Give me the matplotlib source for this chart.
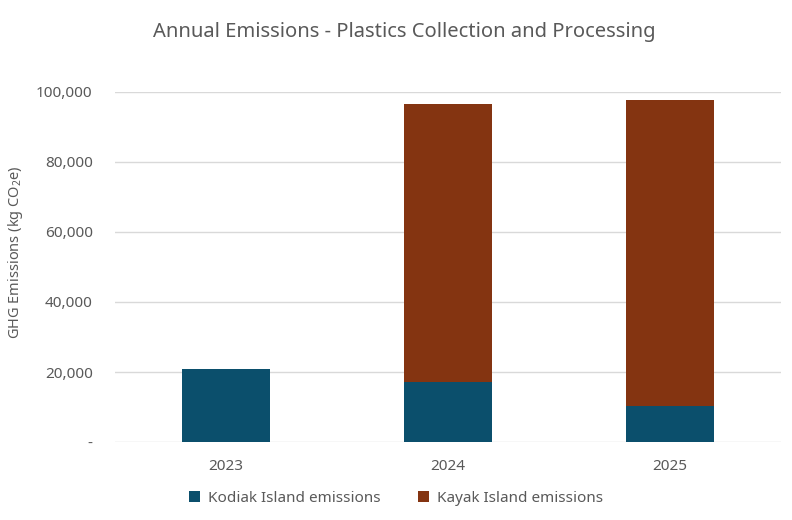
import matplotlib
matplotlib.use("Agg")
import matplotlib.pyplot as plt
from matplotlib.ticker import FuncFormatter

years = ["2023", "2024", "2025"]
kodiak = [21000, 17200, 10400]
kayak = [0, 79400, 87300]
series_names = ["Kodiak Island emissions", "Kayak Island emissions"]
colors = ["#0B4F6C", "#843411"]

plt.rcParams['font.family'] = ['Noto Sans', 'DejaVu Sans']
plt.rcParams['mathtext.fontset'] = 'custom'
plt.rcParams['mathtext.rm'] = 'Noto Sans'
txt = "#595959"

fig = plt.figure(figsize=(7.92, 5.2), dpi=100)
ax = fig.add_axes([115/792, 1-442/520, (781-115)/792, 350/520])

x = range(len(years))
ax.bar(x, kodiak, width=0.4, color=colors[0], label=series_names[0], zorder=3)
ax.bar(x, kayak, width=0.4, bottom=kodiak, color=colors[1], label=series_names[1], zorder=3)

ax.set_xlim(-0.5, 2.5)
ax.set_ylim(0, 100000)
ax.set_yticks(range(0, 100001, 20000))
ax.yaxis.set_major_formatter(FuncFormatter(lambda v, p: "-" if v == 0 else f"{int(v):,}"))
ax.set_xticks(list(x))
ax.set_xticklabels(years)
ax.grid(axis='y', color="#D9D9D9", linewidth=1, zorder=0)
for s in ax.spines.values():
    s.set_visible(False)
ax.tick_params(axis='both', length=0, colors=txt, labelsize=11)
ax.tick_params(axis='y', pad=16)
ax.tick_params(axis='x', pad=12)
ax.set_ylabel("GHG Emissions (kg CO$_\\mathrm{2}$e)", color=txt, fontsize=10.5,
              va='center', ha='center')
ax.yaxis.set_label_coords((16-115)/666, (442-252)/350)

fig.text(404/792, 1-32/520, "Annual Emissions - Plastics Collection and Processing",
         ha='center', va='center', fontsize=14.5, color=txt)

fig.legend(loc='center', bbox_to_anchor=(0.5, 1-498/520), ncol=2, frameon=False,
           fontsize=11, labelcolor=txt, handlelength=0.7, handleheight=0.7,
           columnspacing=2.5, handletextpad=0.5)

fig.savefig("out.png", dpi=100)
